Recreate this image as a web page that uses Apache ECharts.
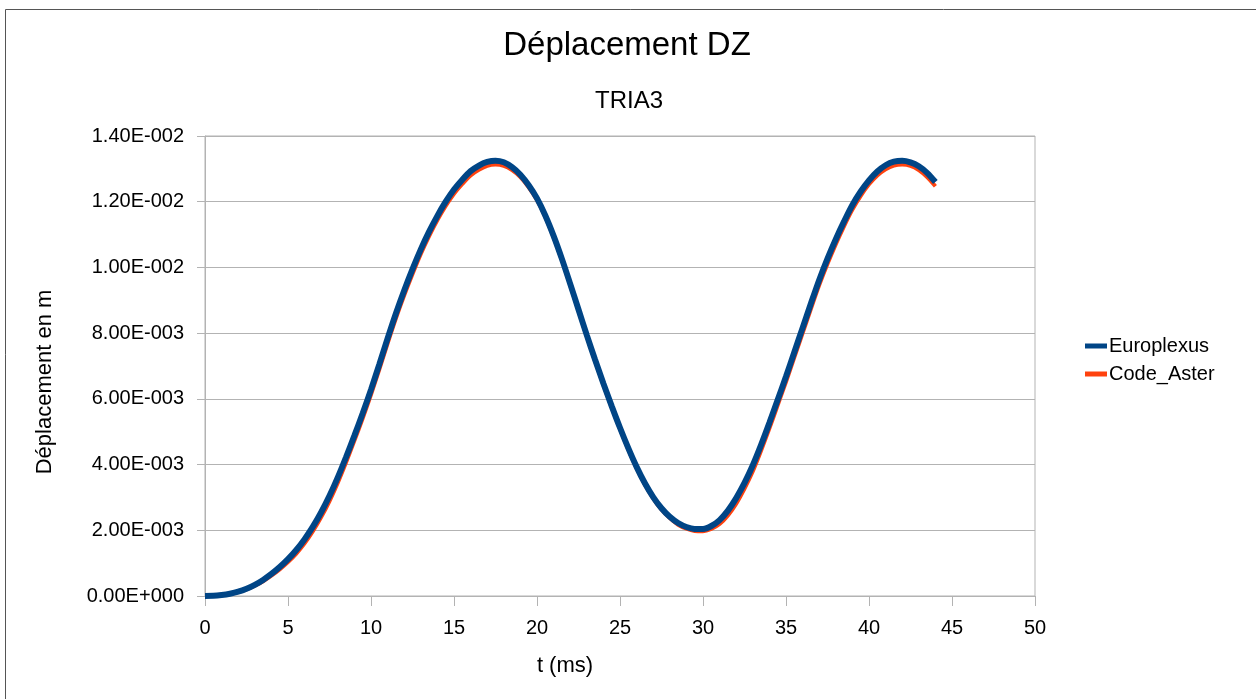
<!DOCTYPE html>
<html>
<head>
<meta charset="utf-8">
<script src="https://cdn.jsdelivr.net/npm/echarts@6/dist/echarts.min.js"></script>
<style>
html,body{margin:0;padding:0;background:#fff;}
#chart{width:1256px;height:699px;}
</style>
</head>
<body>
<div id="chart"></div>
<script>
// Time in ms (0 .. 44, step 0.5)
var times = [0,0.5,1,1.5,2,2.5,3,3.5,4,4.5,5,5.5,6,6.5,7,7.5,8,8.5,9,9.5,10,10.5,11,11.5,12,12.5,13,13.5,14,14.5,15,15.5,16,16.5,17,17.5,18,18.5,19,19.5,20,20.5,21,21.5,22,22.5,23,23.5,24,24.5,25,25.5,26,26.5,27,27.5,28,28.5,29,29.5,30,30.5,31,31.5,32,32.5,33,33.5,34,34.5,35,35.5,36,36.5,37,37.5,38,38.5,39,39.5,40,40.5,41,41.5,42,42.5,43,43.5,44];
// Displacement DZ in units of 1e-3 m
var europlexus = [0,0.005,0.03,0.07,0.13,0.22,0.34,0.49,0.67,0.88,1.12,1.4,1.73,2.11,2.55,3.05,3.61,4.23,4.88,5.56,6.28,7.05,7.84,8.6,9.3,9.95,10.55,11.09,11.57,12.0,12.37,12.67,12.93,13.1,13.21,13.25,13.2,13.05,12.82,12.5,12.1,11.58,10.96,10.26,9.5,8.72,7.94,7.19,6.47,5.78,5.12,4.5,3.93,3.43,3.01,2.67,2.41,2.22,2.1,2.04,2.04,2.13,2.31,2.6,2.98,3.44,3.98,4.6,5.27,5.97,6.68,7.42,8.16,8.9,9.62,10.27,10.86,11.4,11.9,12.31,12.65,12.92,13.11,13.22,13.25,13.2,13.08,12.88,12.6];
var codeAster  = [0,0.005,0.028,0.065,0.12,0.2,0.31,0.45,0.62,0.81,1.03,1.29,1.6,1.97,2.4,2.89,3.45,4.07,4.73,5.41,6.13,6.9,7.69,8.45,9.15,9.8,10.41,10.95,11.44,11.87,12.24,12.54,12.8,12.97,13.09,13.13,13.09,12.96,12.75,12.44,12.05,11.54,10.92,10.22,9.46,8.68,7.9,7.15,6.43,5.74,5.08,4.46,3.89,3.39,2.97,2.63,2.37,2.17,2.05,1.98,1.97,2.04,2.19,2.45,2.81,3.27,3.8,4.43,5.1,5.81,6.52,7.26,8.0,8.74,9.46,10.11,10.71,11.26,11.76,12.18,12.53,12.8,12.99,13.1,13.13,13.09,12.96,12.75,12.47];
var seriesNames = ['Europlexus','Code_Aster'];
var titleText = 'Déplacement DZ';
var subtitleText = 'TRIA3';
var xName = 't (ms)';
var yName = 'Déplacement en m';

function pairs(arr){ return times.map(function(t,i){ return [t, arr[i]*1e-3]; }); }
function fmtE(v){
  if (Math.abs(v) < 1e-15) return '0.00E+000';
  var s = v.toExponential(2);
  var parts = s.split('e');
  var exp = parseInt(parts[1],10);
  var sign = exp < 0 ? '-' : '+';
  var e = String(Math.abs(exp)); while (e.length < 3) e = '0' + e;
  return parts[0] + 'E' + sign + e;
}

var FONT = '"Liberation Sans", Arial, sans-serif';
var chart = echarts.init(document.getElementById('chart'), null, {renderer:'canvas'});
chart.setOption({
  backgroundColor:'#ffffff',
  animation:false,
  title:[
    {text:titleText, left:622, top:24, textAlign:'center', textStyle:{fontFamily:FONT, fontSize:33, fontWeight:'normal', color:'#000'}},
    {text:subtitleText, left:624, top:84, textAlign:'center', textStyle:{fontFamily:FONT, fontSize:24, fontWeight:'normal', color:'#000'}}
  ],
  legend:{
    orient:'vertical', left:1080, top:331, itemGap:8, itemWidth:22, itemHeight:5,
    data:[{name:seriesNames[0], icon:'rect'},{name:seriesNames[1], icon:'rect'}],
    textStyle:{fontFamily:FONT, fontSize:20, color:'#000', padding:[0,0,0,-3]}
  },
  grid:{left:205, right:221, top:136, bottom:103, show:true, borderColor:'#b3b3b3', borderWidth:1},
  xAxis:{
    type:'value', min:0, max:50, interval:5,
    axisLine:{show:true, lineStyle:{color:'#b3b3b3'}},
    axisTick:{show:true, length:10, lineStyle:{color:'#b3b3b3'}},
    splitLine:{show:false},
    axisLabel:{fontFamily:FONT, fontSize:20, color:'#000', margin:22}
  },
  yAxis:{
    type:'value', min:0, max:0.014, interval:0.002,
    axisLine:{show:true, lineStyle:{color:'#b3b3b3'}},
    axisTick:{show:true, length:8, lineStyle:{color:'#b3b3b3'}},
    splitLine:{show:true, lineStyle:{color:'#b3b3b3'}},
    axisLabel:{fontFamily:FONT, fontSize:20, color:'#000', margin:21, formatter:fmtE}
  },
  graphic:[
    {type:'line', shape:{x1:5.5, y1:9.5, x2:1256, y2:9.5}, style:{stroke:'#555', lineWidth:1}},
    {type:'line', shape:{x1:5.5, y1:9.5, x2:5.5, y2:699}, style:{stroke:'#555', lineWidth:1}},
    {type:'text', x:565, y:666, style:{text:xName, font:'22px ' + FONT, fill:'#000', textAlign:'center', textVerticalAlign:'middle'}},
    {type:'text', x:45, y:382, rotation:Math.PI/2, style:{text:yName, font:'22px ' + FONT, fill:'#000', textAlign:'center', textVerticalAlign:'middle'}}
  ],
  series:[
    {name:seriesNames[1], type:'line', data:pairs(codeAster), smooth:0.3, showSymbol:false, z:2,
      lineStyle:{color:'#ff420e', width:4}, itemStyle:{color:'#ff420e'}},
    {name:seriesNames[0], type:'line', data:pairs(europlexus), smooth:0.3, showSymbol:false, z:3,
      lineStyle:{color:'#004586', width:6}, itemStyle:{color:'#004586'}}
  ]
});
</script>
</body>
</html>
